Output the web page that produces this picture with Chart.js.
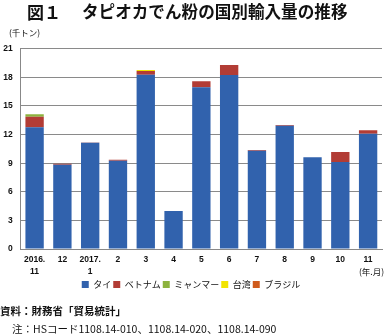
<!DOCTYPE html>
<html><head><meta charset="utf-8">
<script src="https://cdn.jsdelivr.net/npm/chart.js@4"></script>
<style>
html,body{margin:0;padding:0;background:#fff;width:389px;height:335px;overflow:hidden;font-family:"Noto Sans CJK JP",sans-serif;color:#111;}
#wrap{position:absolute;left:0;top:0;width:389px;height:335px;}
.t{position:absolute;white-space:nowrap;line-height:1;}
</style></head><body>
<div id="wrap"><canvas id="c" width="389" height="335"></canvas></div>
<div class="t" style="left:27px;top:3px;font-size:17px;font-weight:bold;">図１</div>
<div class="t" style="left:82px;top:3px;font-size:16.6px;font-weight:bold;">タピオカでん粉の国別輸入量の推移</div>
<div class="t" style="left:9px;top:28px;font-size:8.5px;">(千トン)</div>
<div class="t" style="left:359px;top:267px;font-size:8.5px;">(年.月)</div>
<div class="t" style="left:0px;top:306px;font-size:10.5px;font-weight:bold;">資料：財務省「貿易統計」</div>
<div class="t" style="left:12px;top:324px;font-size:10.5px;">注：HSコード1108.14-010、1108.14-020、1108.14-090</div>
<script>
const categories = [["2016.","11"],"12",["2017.","1"],"2","3","4","5","6","7","8","9","10","11"];
const seriesNames = ["タイ","ベトナム","ミャンマー","台湾","ブラジル"];
const thai    = [12.76, 8.84, 11.14, 9.26, 18.27, 3.98, 16.95, 18.24, 10.30, 12.92, 9.61, 9.12, 12.09];
const vietnam = [1.10, 0.10, 0.03, 0.10, 0.39, 0, 0.63, 1.05, 0.07, 0.07, 0.02, 1.05, 0.35];
const myanmar = [0.28, 0, 0, 0, 0, 0, 0, 0, 0, 0, 0, 0, 0];
const taiwan  = [0, 0, 0, 0, 0.10, 0, 0, 0, 0, 0, 0, 0, 0];
const brazil  = [0, 0, 0, 0, 0, 0, 0, 0, 0, 0, 0, 0, 0];
const yTicks  = [0, 3, 6, 9, 12, 15, 18, 21];

const colors = ["#3162ad","#b23c35","#8db33e","#f2e400","#cf5b1c"];
const values = [thai, vietnam, myanmar, taiwan, brazil];
const tickFont = {family:"'Liberation Sans', Arial, sans-serif", size:8.5, weight:"bold", lineHeight:1.35};

new Chart(document.getElementById("c"), {
  type: "bar",
  data: {
    labels: categories,
    datasets: seriesNames.map((n,i)=>({
      label: n, data: values[i], backgroundColor: colors[i],
      borderWidth: 0, barPercentage: 0.66, categoryPercentage: 1.0
    }))
  },
  options: {
    responsive: false, animation: false,
    layout: {padding: {top: 48.7, right: 7, left: 0, bottom: 36}},
    plugins: {
      title: {display:false}, tooltip:{enabled:false},
      legend: {
        position: "bottom",
        labels: {boxWidth: 7, boxHeight: 7, padding: 2, color:"#111",
          font: {family:"'Noto Sans CJK JP', sans-serif", size: 9}}
      }
    },
    scales: {
      x: {
        stacked: true,
        afterFit: s => { s.height = 29; },
        grid: {display: false, drawTicks: false, tickLength: 0},
        border: {display: true, color: "#888", width: 1},
        ticks: {color:"#111", font: tickFont, padding: 5, maxRotation: 0, autoSkip: false}
      },
      y: {
        stacked: true, min: 0, max: 21,
        afterBuildTicks: s => { s.ticks = yTicks.map(v=>({value:v})); },
        afterFit: s => { s.width = 20.7; },
        grid: {color: "#8a8a8a", lineWidth: 1, drawTicks: false, tickLength: 0},
        border: {display: true, color: "#888", width: 1},
        ticks: {color:"#111", font: tickFont, padding: 8}
      }
    }
  }
});
</script>
</body></html>
